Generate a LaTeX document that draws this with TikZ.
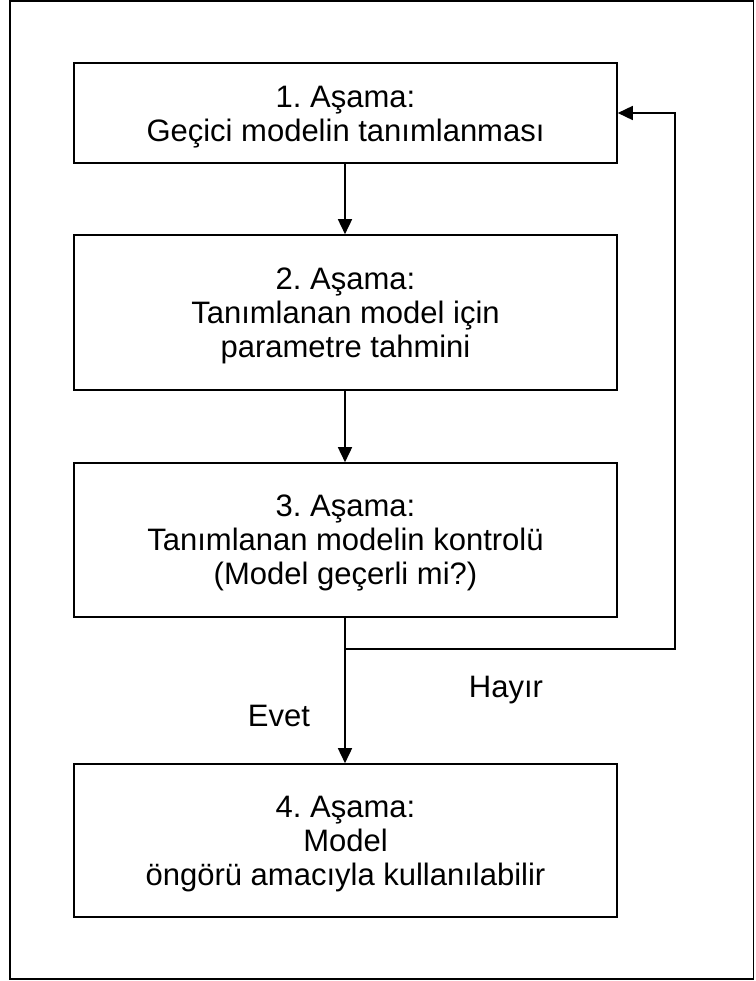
\documentclass[tikz,border=0pt]{standalone}
\usepackage{fontspec}
\setmainfont{Liberation Sans}
\usetikzlibrary{arrows.meta}
\frenchspacing
\begin{document}
\begin{tikzpicture}[x=1pt,y=-1pt,
  box/.style={draw,line width=1.6pt,inner sep=0pt,minimum width=543pt},
  txt/.style={align=center,inner sep=0pt,anchor=center,font=\fontsize{31}{34}\selectfont},
  lbl/.style={inner sep=0pt,anchor=base,font=\fontsize{31}{34}\selectfont},
  conn/.style={line width=1.6pt},
  arr/.style={conn,-{Triangle[length=15pt,width=14pt]}}]
\useasboundingbox (0,0) rectangle (755,981);
\draw[line width=1.8pt] (10,1.2) rectangle (753.5,979);
\node[box,minimum height=100pt] (b1) at (345.5,113) {};
\node[box,minimum height=155pt] (b2) at (345.5,312.5) {};
\node[box,minimum height=154pt] (b3) at (345.5,540) {};
\node[box,minimum height=153pt] (b4) at (345.5,840.5) {};
\node[txt] (t1) at (345.5,117) {1. Aşama:\\Geçici modelin tanımlanması};
\node[txt] (t2) at (345.5,316) {2. Aşama:\\Tanımlanan model için\\parametre tahmini};
\node[txt] (t3) at (345.5,543) {3. Aşama:\\Tanımlanan modelin kontrolü\\(Model geçerli mi?)};
\node[txt] (t4) at (345.5,844) {4. Aşama:\\Model\\öngörü amacıyla kullanılabilir};
\node[lbl] (hayir) at (506,697) {Hayır};
\node[lbl] (evet) at (279,726) {Evet};
\coordinate (j) at (345,649);
\coordinate (r1) at (675,649);
\coordinate (r2) at (675,113);
\draw[arr] (b1.south -| j) -- (b2.north -| j);
\draw[arr] (b2.south -| j) -- (b3.north -| j);
\draw[arr] (b3.south -| j) -- (b4.north -| j);
\draw[arr] (j) -- (r1) -- (r2) -- (b1.east);
\end{tikzpicture}
\end{document}
